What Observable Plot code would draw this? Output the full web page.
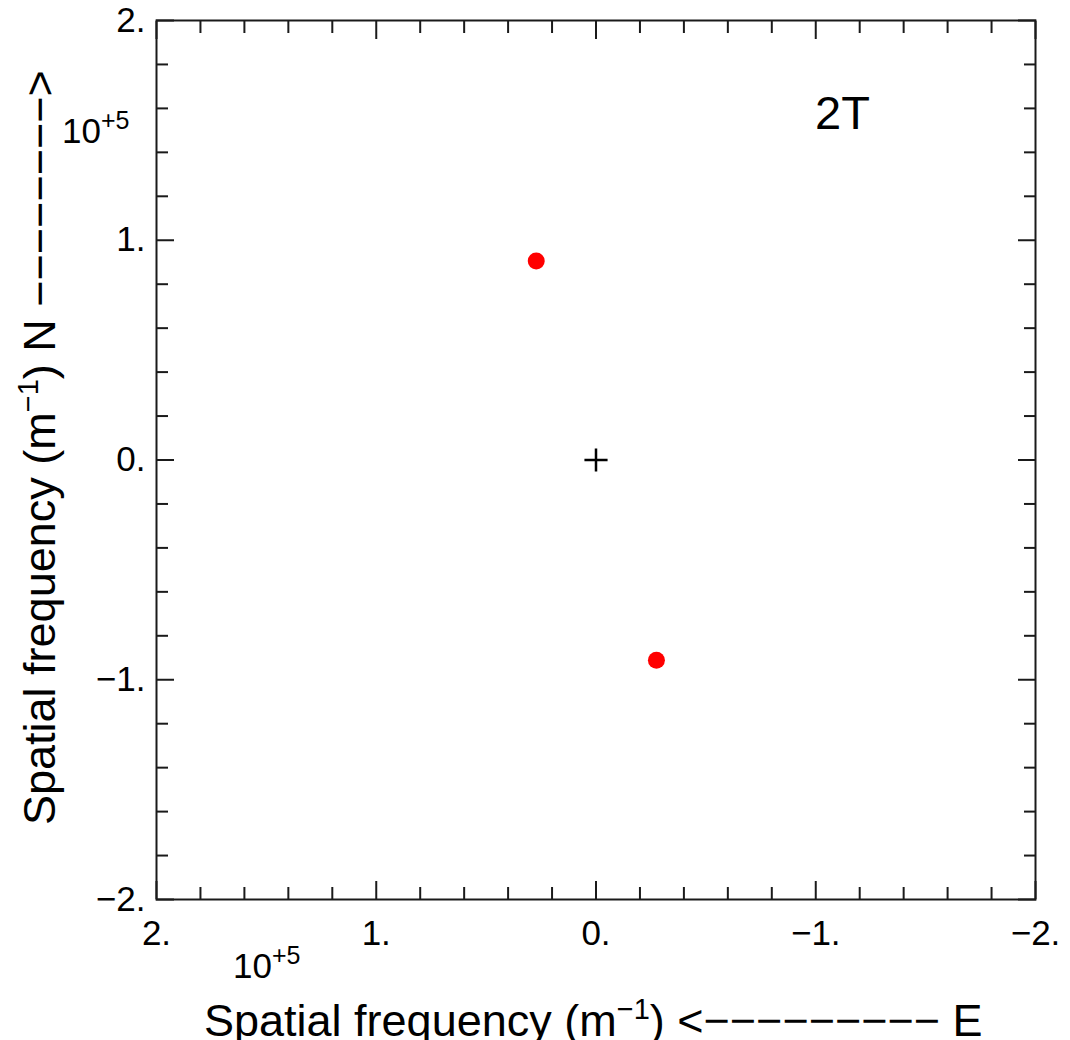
<!DOCTYPE html>
<html><head><meta charset="utf-8">
<script src="https://cdn.jsdelivr.net/npm/d3@7"></script>
<script src="https://cdn.jsdelivr.net/npm/@observablehq/plot@0.6"></script>
<style>body{margin:0;background:#fff} svg{display:block}</style>
</head><body><div id="chart"></div>
<script>
// data (units of 1e5 m^-1)
const pointU = [0.272, -0.275];
const pointV = [0.906, -0.911];
const originU = [0];
const originV = [0];
const majorTicks = [-2, -1, 0, 1, 2];
const minorTicks = [-1.8, -1.6, -1.4, -1.2, -0.8, -0.6, -0.4, -0.2, 0.2, 0.4, 0.6, 0.8, 1.2, 1.4, 1.6, 1.8];
const tickLabels = ["−2.", "−1.", "0.", "1.", "2."];
const panelLabel = ["2T"];
const axisTitleBase = "Spatial frequency (m";
const axisTitleSup = "−1";
const xArrow = ") <−−−−−−−−− E";
const yArrow = ") N −−−−−−−−>";
const exponentBase = "10";
const exponentSup = "+5";

const FONT = "'Liberation Sans', Arial, Helvetica, sans-serif";
const fmt = d => tickLabels[majorTicks.indexOf(d)];
const ink = "#1a1a1a";

const axes = [];
for (const anchor of ["bottom", "top"]) {
  axes.push(Plot.axisX(minorTicks, {anchor, tickSize: -12, tickFormat: () => "", stroke: ink, strokeWidth: 2}));
  axes.push(Plot.axisX(majorTicks, {anchor, tickSize: -18, tickFormat: () => "", stroke: ink, strokeWidth: 2}));
}
for (const anchor of ["left", "right"]) {
  axes.push(Plot.axisY(minorTicks, {anchor, tickSize: -12, tickFormat: () => "", stroke: ink, strokeWidth: 2}));
  axes.push(Plot.axisY(majorTicks, {anchor, tickSize: -18, tickFormat: () => "", stroke: ink, strokeWidth: 2}));
}
axes.push(Plot.axisX(majorTicks, {anchor: "bottom", tickSize: 0, tickPadding: 21, tickFormat: fmt, fontSize: 35, fill: "#000", label: null}));
axes.push(Plot.axisY(majorTicks, {anchor: "left", tickSize: 0, tickPadding: 11, tickFormat: fmt, fontSize: 35, fill: "#000", label: null}));

const chart = Plot.plot({
  width: 1070,
  height: 1040,
  marginLeft: 156,
  marginRight: 35,
  marginTop: 20,
  marginBottom: 141,
  style: {fontFamily: FONT, background: "#fff", color: "#000"},
  x: {domain: [2, -2], label: null},
  y: {domain: [-2, 2], label: null},
  marks: [
    ...axes,
    Plot.frame({stroke: ink, strokeWidth: 2}),
    Plot.dot(originU.map((u, i) => ({u, v: originV[i]})), {x: "u", y: "v", symbol: "plus", r: 7.5, stroke: "#000", strokeWidth: 2.5}),
    Plot.dot(pointU.map((u, i) => ({u, v: pointV[i]})), {x: "u", y: "v", r: 8.5, fill: "#ff0000", stroke: "none"}),
    Plot.text(panelLabel, {frameAnchor: "top-right", text: d => d, dx: -193, dy: 75, fontSize: 47, fill: "#000", textAnchor: "middle"})
  ]
});

document.getElementById("chart").appendChild(chart);
const svg = d3.select(chart);

function supText(sel, base, sup, supSize, rise) {
  sel.append("tspan").text(base);
  sel.append("tspan").attr("dy", -rise).attr("font-size", supSize).text(sup);
}

// x title
const xt = svg.append("text").attr("x", 204).attr("y", 1036).attr("text-anchor", "start")
  .attr("font-family", FONT).attr("font-size", 45).attr("fill", "#000");
xt.append("tspan").text(axisTitleBase);
xt.append("tspan").attr("dy", -17).attr("font-size", 29).text(axisTitleSup);
xt.append("tspan").attr("dy", 17).text(xArrow);

// y title
const yt = svg.append("text").attr("transform", "translate(55,825) rotate(-90)").attr("text-anchor", "start")
  .attr("font-family", FONT).attr("font-size", 45).attr("fill", "#000");
yt.append("tspan").text(axisTitleBase);
yt.append("tspan").attr("dy", -17).attr("font-size", 29).text(axisTitleSup);
yt.append("tspan").attr("dy", 17).text(yArrow);

// exponent labels
const e1 = svg.append("text").attr("x", 62).attr("y", 143).attr("text-anchor", "start")
  .attr("font-family", FONT).attr("font-size", 35).attr("fill", "#000");
supText(e1, exponentBase, exponentSup, 25, 14);
const e2 = svg.append("text").attr("x", 233).attr("y", 978).attr("text-anchor", "start")
  .attr("font-family", FONT).attr("font-size", 35).attr("fill", "#000");
supText(e2, exponentBase, exponentSup, 25, 14);
</script>
</body></html>
